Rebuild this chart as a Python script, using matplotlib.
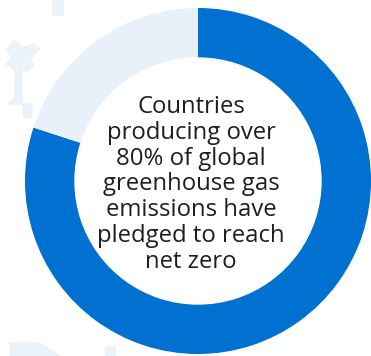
import matplotlib.pyplot as plt
from matplotlib.patches import Rectangle, Polygon

# share of global greenhouse gas emissions
labels = ['Pledged net zero', 'Other']
shares = [80, 20]
colors = ['#0070d1', '#e8f1fa']
caption = 'Countries\nproducing over\n80% of global\ngreenhouse gas\nemissions have\npledged to reach\nnet zero'

plt.rcParams['font.family'] = ['Open Sans', 'DejaVu Sans']

fig = plt.figure(figsize=(3.71, 3.56), dpi=100)
fig.patch.set_facecolor('white')

# faint background decoration (figure pixels / size)
deco = '#eaf2fa'
W, H = 371, 356
fig.patches.append(Rectangle((52 / W, 1 - 15 / H), 11 / W, 15 / H, transform=fig.transFigure,
                             color=deco, zorder=0))
cross = [(7, 50), (14, 40), (22, 48), (34, 44), (40, 49), (30, 58), (34, 66), (26, 72),
         (22, 66), (22, 98), (24, 118), (32, 118), (32, 104), (8, 104), (15, 98), (15, 70),
         (6, 64), (12, 58)]
fig.patches.append(Polygon([(x / W, 1 - y / H) for x, y in cross], closed=True,
                           transform=fig.transFigure, color=deco, zorder=0))
bottom = [(10, 343), (40, 343), (60, 356), (10, 356)]
fig.patches.append(Polygon([(x / W, 1 - y / H) for x, y in bottom], closed=True,
                           transform=fig.transFigure, color=deco, zorder=0))
fig.patches.append(Rectangle((105 / W, 0), 10 / W, 10 / H, transform=fig.transFigure,
                             color=deco, zorder=0))

ax = fig.add_axes([0, 0, 1, 1])
ax.set_facecolor('none')
R = 173.0
cx, cy = 198.0, 181.0
ax.pie(shares, colors=colors, startangle=90, counterclock=False, radius=1,
       wedgeprops=dict(width=0.285, edgecolor='none'))
ax.set_xlim(-cx / R, (W - cx) / R)
ax.set_ylim(-(H - cy) / R, cy / R)
ax.set_aspect('auto')
ax.axis('off')

ax.text(-0.04, -0.02, caption, ha='center', va='center', fontsize=17.2,
        color='#1e1e1e', linespacing=1.1, fontweight='medium')

fig.savefig('out.png', dpi=100)
